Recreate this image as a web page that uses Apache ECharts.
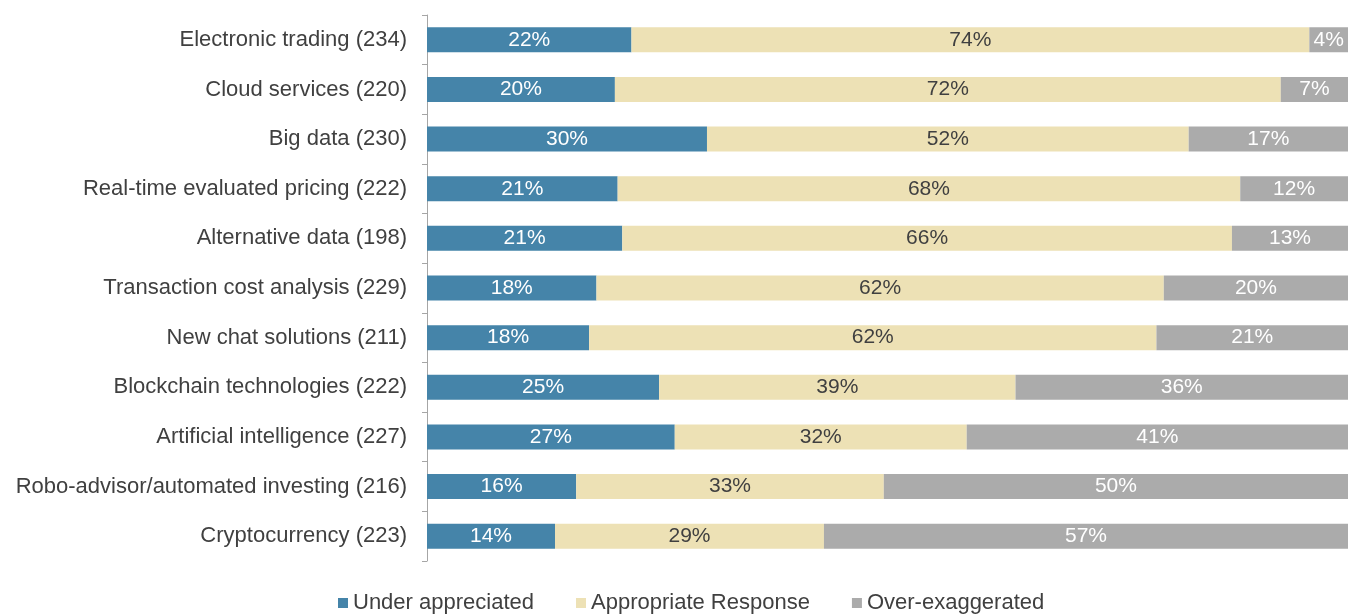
<!DOCTYPE html>
<html>
<head>
<meta charset="utf-8">
<script src="https://cdn.jsdelivr.net/npm/echarts@6/dist/echarts.min.js"></script>
<style>
html,body{margin:0;padding:0;background:#fff;}
#chart{width:1357px;height:615px;}
</style>
</head>
<body>
<div id="chart"></div>
<script>
const categories = [
  'Electronic trading (234)',
  'Cloud services (220)',
  'Big data (230)',
  'Real-time evaluated pricing (222)',
  'Alternative data (198)',
  'Transaction cost analysis (229)',
  'New chat solutions (211)',
  'Blockchain technologies (222)',
  'Artificial intelligence (227)',
  'Robo-advisor/automated investing (216)',
  'Cryptocurrency (223)'
];
const underAppreciated = [22.2, 20.4, 30.4, 20.7, 21.2, 18.4, 17.6, 25.2, 26.9, 16.2, 13.9];
const appropriateResponse = [73.6, 72.3, 52.3, 67.6, 66.2, 61.6, 61.6, 38.7, 31.7, 33.4, 29.2];
const overExaggerated = [4.2, 7.3, 17.3, 11.7, 12.6, 20.0, 20.8, 36.1, 41.4, 50.4, 56.9];
const seriesNames = ['Under appreciated', 'Appropriate Response', 'Over-exaggerated'];

const FONT = '"Liberation Sans", Arial, sans-serif';
const chart = echarts.init(document.getElementById('chart'), null, {renderer: 'canvas'});

function mk(name, data, color, labelColor) {
  return {
    name: name,
    type: 'bar',
    stack: 'total',
    data: data,
    barWidth: 25,
    itemStyle: {color: color},
    label: {
      show: true,
      position: 'inside',
      color: labelColor,
      fontFamily: FONT,
      fontSize: 21,
      formatter: p => Math.round(p.value) + '%'
    },
    emphasis: {disabled: true}
  };
}

chart.setOption({
  animation: false,
  backgroundColor: '#ffffff',
  textStyle: {fontFamily: FONT},
  grid: {left: 427, right: 9, top: 15, bottom: 54, containLabel: false},
  legend: {
    left: 333,
    top: 587,
    itemWidth: 10,
    itemHeight: 10,
    itemGap: 42,
    icon: 'rect',
    textStyle: {fontFamily: FONT, fontSize: 22, color: '#404040'},
    data: seriesNames
  },
  xAxis: {
    type: 'value',
    min: 0,
    max: 100,
    show: false
  },
  yAxis: {
    type: 'category',
    inverse: true,
    data: categories,
    axisLine: {show: true, lineStyle: {color: '#a6a6a6', width: 1}},
    axisTick: {show: true, alignWithLabel: false, length: 5, lineStyle: {color: '#a6a6a6'}},
    axisLabel: {fontFamily: FONT, fontSize: 22, color: '#404040', margin: 20}
  },
  series: [
    mk(seriesNames[0], underAppreciated, '#4584a9', '#ffffff'),
    mk(seriesNames[1], appropriateResponse, '#ede1b5', '#404040'),
    mk(seriesNames[2], overExaggerated, '#ababab', '#ffffff')
  ]
});
</script>
</body>
</html>
